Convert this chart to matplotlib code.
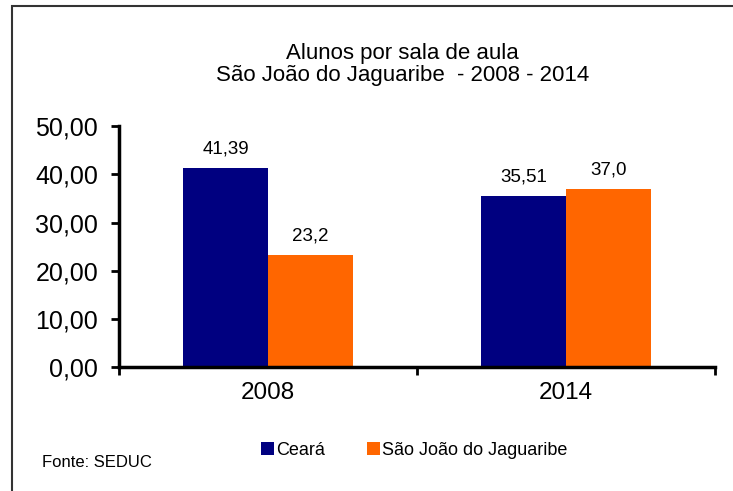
"""
Gráfico - Alunos por sala de aula
Comparação entre Ceará e São João do Jaguaribe nos anos de 2008 e 2014.

Os valores foram digitados diretamente no script para que ele rode sem
depender de arquivos externos.
"""

import numpy as np
import matplotlib.pyplot as plt
from matplotlib.patches import Rectangle

# ----------------------------------------------------------------------
# 1. Dados
# ----------------------------------------------------------------------
anos = ["2008", "2014"]
ceara = [41.39, 35.51]
sao_joao = [23.2, 37.0]
rotulos_ceara = ["41,39", "35,51"]
rotulos_sao_joao = ["23,2", "37,0"]
ticks_y = [0, 10, 20, 30, 40, 50]

plt.rcParams["font.family"] = ["Liberation Sans", "DejaVu Sans"]

# ----------------------------------------------------------------------
# 2. Gráfico de barras
# ----------------------------------------------------------------------
x = np.arange(len(anos))
largura = 0.285          # largura de cada barra (categoria = 1)

fig = plt.figure(figsize=(7.33, 4.91), dpi=100)
ax = fig.add_axes([0.1625, 0.2525, 0.813, 0.4905])

b1 = plt.bar(x - largura / 2, ceara, largura, color="#000080", label="Ceará")
b2 = plt.bar(x + largura / 2, sao_joao, largura, color="#FF6600",
             label="São João do Jaguaribe")

# rótulos acima das barras
for barra, texto in zip(b1, rotulos_ceara):
    plt.text(barra.get_x() + barra.get_width() / 2, barra.get_height() + 2.2,
             texto, ha="center", va="bottom", fontsize=13.5)
for barra, texto in zip(b2, rotulos_sao_joao):
    plt.text(barra.get_x() + barra.get_width() / 2, barra.get_height() + 2.2,
             texto, ha="center", va="bottom", fontsize=13.5)

plt.xlim(-0.5, 1.5)
plt.ylim(0, 50)
plt.yticks(ticks_y, [f"{v:.2f}".replace(".", ",") for v in ticks_y], fontsize=18)
plt.xticks(x, anos, fontsize=17.5)
ax.set_xticks([-0.5, 0.5, 1.5], minor=True)
ax.tick_params(axis="x", which="major", length=0, pad=11)
ax.tick_params(axis="x", which="minor", length=6, width=2, direction="out")
ax.tick_params(axis="y", length=6, width=2, direction="out", pad=9)

for lado in ["top", "right"]:
    ax.spines[lado].set_visible(False)
for lado in ["left", "bottom"]:
    ax.spines[lado].set_linewidth(2.5)

plt.suptitle("Alunos por sala de aula\nSão João do Jaguaribe  - 2008 - 2014",
             x=0.549, y=0.913, fontsize=16, linespacing=1.1)

plt.legend(loc="center", bbox_to_anchor=(0.565, 0.083),
           bbox_transform=fig.transFigure, ncol=2, frameon=False,
           fontsize=13, handlelength=0.75, handleheight=0.75,
           handletextpad=0.1, columnspacing=2.3)

fig.text(0.057, 0.059, "Fonte: SEDUC", fontsize=12, ha="left", va="center")

# moldura do gráfico
fig.patches.append(Rectangle((0.0164, -0.5), 2.0, 1.488, transform=fig.transFigure,
                             fill=False, edgecolor="#333333", linewidth=1.5))

plt.savefig("out.png", dpi=100)
